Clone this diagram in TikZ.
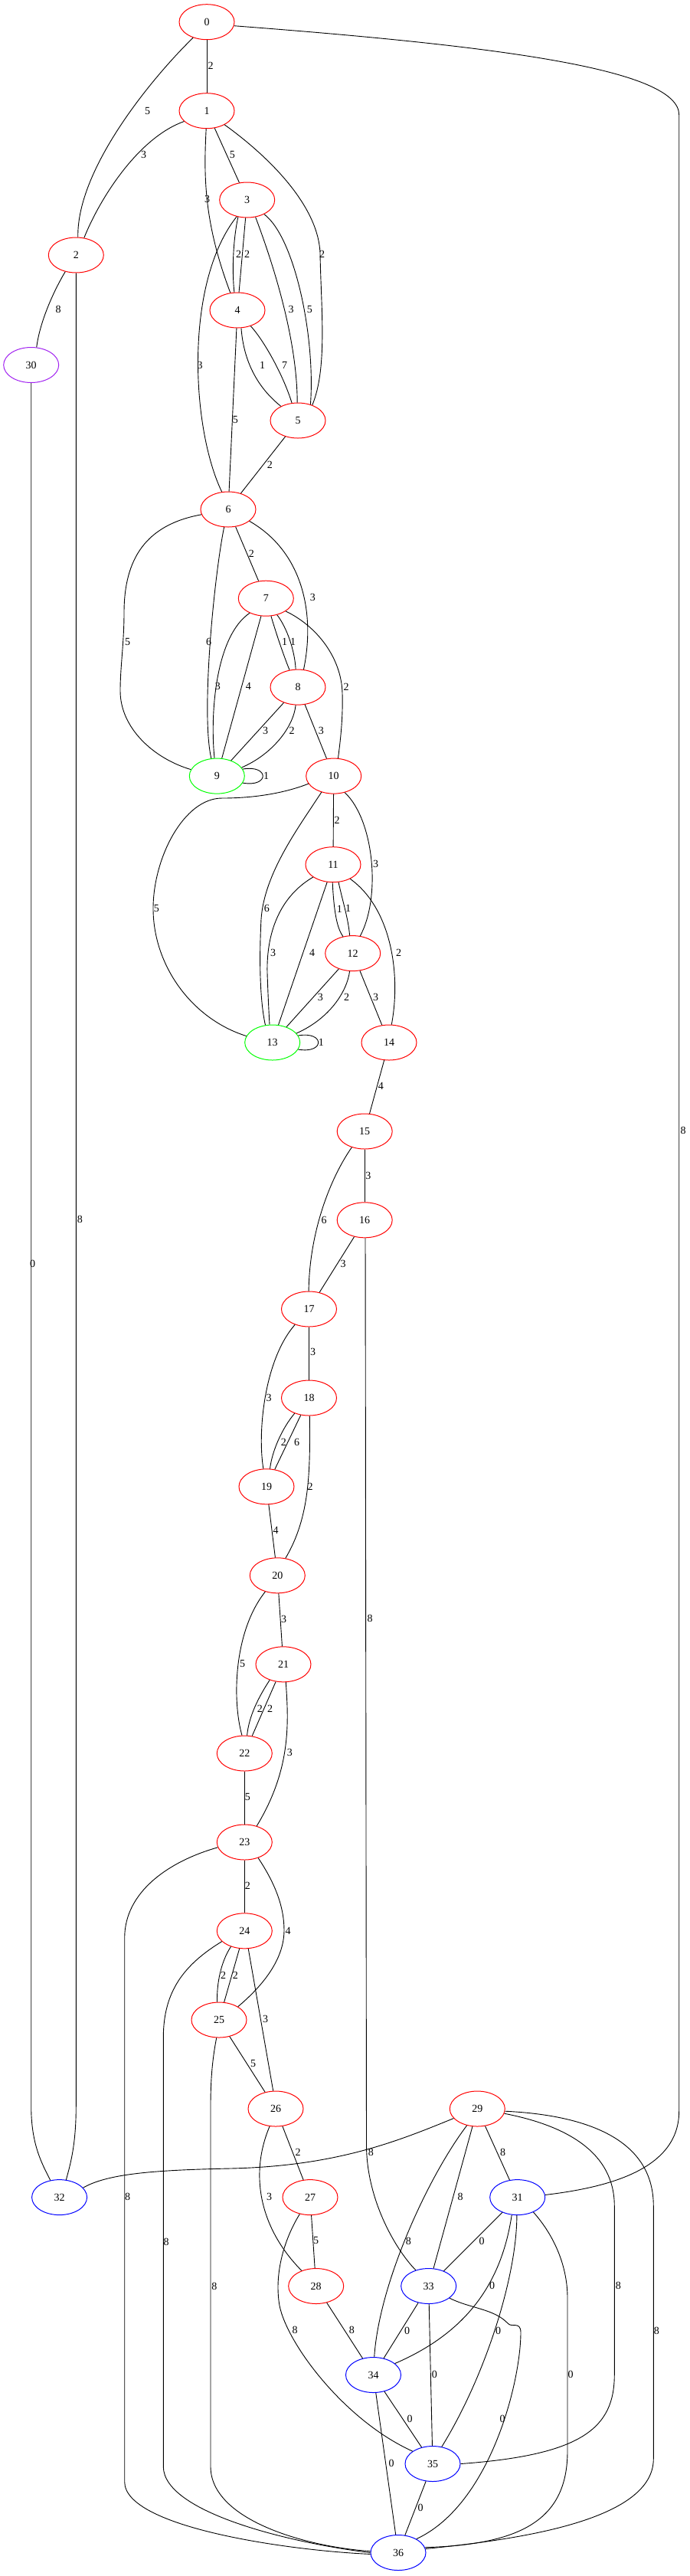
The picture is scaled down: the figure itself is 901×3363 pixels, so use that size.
\documentclass[tikz,border=0pt]{standalone}
\usepackage{fontspec}
\setmainfont{Liberation Serif}
\usetikzlibrary{shapes.geometric}
\definecolor{gvpurple}{HTML}{A020F0}
\begin{document}
\begin{tikzpicture}[x=1pt,y=-1pt,
  gv/.style={ellipse, draw, line width=1pt, minimum width=72pt, minimum height=46pt, inner sep=0pt, font=\fontsize{14}{16}\selectfont},
  rn/.style={gv, draw=red},
  gn/.style={gv, draw=green},
  bn/.style={gv, draw=blue},
  pn/.style={gv, draw=gvpurple},
  lbl/.style={font=\fontsize{14}{16}\selectfont, inner sep=0pt},
  edge/.style={draw=black, line width=0.9pt}]
\useasboundingbox (0,0) rectangle (901,3363);
% nodes
\node[rn] (n0) at (270,28.7) {0};
\node[rn] (n1) at (270,144.7) {1};
\node[rn] (n3) at (322.7,261) {3};
\node[rn] (n2) at (99.3,333) {2};
\node[rn] (n4) at (310,405) {4};
\node[pn] (n30) at (40.7,476.5) {30};
\node[rn] (n5) at (389,549) {5};
\node[rn] (n6) at (298,665) {6};
\node[rn] (n7) at (347.3,781.2) {7};
\node[rn] (n8) at (389,897.1) {8};
\node[gn] (n9) at (283.3,1013.1) {9};
\node[rn] (n10) at (435.7,1013.1) {10};
\node[rn] (n11) at (435,1128.7) {11};
\node[rn] (n12) at (460.7,1244.6) {12};
\node[gn] (n13) at (355.7,1361) {13};
\node[rn] (n14) at (508,1361) {14};
\node[rn] (n15) at (476.2,1477) {15};
\node[rn] (n16) at (476.2,1592.8) {16};
\node[rn] (n17) at (403.5,1709) {17};
\node[rn] (n18) at (403.5,1825) {18};
\node[rn] (n19) at (348,1940.8) {19};
\node[rn] (n20) at (362.3,2056.8) {20};
\node[rn] (n21) at (370,2172.8) {21};
\node[rn] (n22) at (319.3,2289) {22};
\node[rn] (n23) at (319.3,2405) {23};
\node[rn] (n24) at (319.3,2520.8) {24};
\node[rn] (n25) at (286,2637) {25};
\node[rn] (n26) at (360,2753) {26};
\node[rn] (n29) at (623.3,2753) {29};
\node[rn] (n27) at (405,2868.6) {27};
\node[bn] (n31) at (675.7,2868.6) {31};
\node[bn] (n32) at (77.6,2868.6) {32};
\node[rn] (n28) at (412.7,2984.5) {28};
\node[bn] (n33) at (559.7,2984.5) {33};
\node[bn] (n34) at (487.5,3100.5) {34};
\node[bn] (n35) at (565,3216.5) {35};
\node[bn] (n36) at (520,3332.5) {36};
% edges
\draw[edge] (n0) -- (n1) node[lbl] (e0-1) at (275,86) {2};
\draw[edge] (n0.229) .. controls (200,100) and (100,220) .. (n2.84) node[lbl] (e0-2) at (192.7,144.7) {5};
\draw[edge] (n0.352) .. controls (650,60) and (886.7,90) .. (886.7,150) -- (886.7,2756) .. controls (886.7,2830) and (800,2855) .. (n31.5) node[lbl] (e0-31) at (892,1476) {8};
\draw[edge] (n1.205) .. controls (180,180) and (130,260) .. (n2.65) node[lbl] (e1-2) at (187.7,201.7) {3};
\draw[edge] (n1) -- (n3) node[lbl] (e1-3) at (303.3,201.7) {5};
\draw[edge] (n1.268) .. controls (266,230) and (266,290) .. (n4.112) node[lbl] (e1-4) at (270.7,260) {3};
\draw[edge] (n1.322) .. controls (345,200) and (415,265) .. (418,330) .. controls (419,400) and (428,480) .. (n5.47) node[lbl] (e1-5) at (420.7,332.2) {2};
\draw[edge] (n3.242) .. controls (304,315) and (303,355) .. (n4.100) node[lbl] (e3-4a) at (311.7,332) {2};
\draw[edge] (n3) -- (n4) node[lbl] (e3-4b) at (322.7,332) {2};
\draw[edge] (n3.296) .. controls (355,340) and (388,440) .. (n5.92) node[lbl] (e3-5a) at (380,403.7) {3};
\draw[edge] (n3.320) .. controls (385,310) and (412,440) .. (n5.52) node[lbl] (e3-5b) at (404.3,403.7) {5};
\draw[edge] (n3.238) .. controls (240,370) and (250,560) .. (n6.110) node[lbl] (e3-6) at (261,476.5) {3};
\draw[edge] (n4.282) .. controls (318,470) and (335,505) .. (n5.140) node[lbl] (e4-5a) at (342.7,476.5) {1};
\draw[edge] (n4.310) .. controls (345,445) and (370,490) .. (n5.109) node[lbl] (e4-5b) at (371.7,476.5) {7};
\draw[edge] (n4) -- (n6) node[lbl] (e4-6) at (307.3,548) {5};
\draw[edge] (n5) -- (n6) node[lbl] (e5-6) at (352.3,606.6) {2};
\draw[edge] (n2.237) .. controls (70,380) and (52,420) .. (n30.73) node[lbl] (e2-30) at (76,403.7) {8};
\draw[edge] (n2.south) -- (99.3,2750) .. controls (99.3,2800) and (92,2825) .. (n32.69) node[lbl] (e2-32) at (104.3,1591.8) {8};
\draw[edge] (n30.south) -- (40.7,2750) .. controls (40.7,2800) and (55,2825) .. (n32.118) node[lbl] (e30-32) at (42.7,1650.3) {0};
\draw[edge] (n6.191) .. controls (190,685) and (162,730) .. (162,800) .. controls (162,840) and (157,870) .. (157,902) .. controls (157,950) and (200,990) .. (n9.166) node[lbl] (e6-9a) at (166.7,837.8) {5};
\draw[edge] (n6.257) .. controls (280,750) and (262,930) .. (n9.108) node[lbl] (e6-9b) at (272.7,837.8) {6};
\draw[edge] (n6) -- (n7) node[lbl] (e6-7) at (328.3,723) {2};
\draw[edge] (n6.331) .. controls (395,720) and (412,800) .. (n8.72) node[lbl] (e6-8) at (408.3,779.6) {3};
\draw[edge] (n7.222) .. controls (282,830) and (274,930) .. (n9.98) node[lbl] (e7-9a) at (284.3,896.3) {3};
\draw[edge] (n7) -- (n9) node[lbl] (e7-9b) at (324.3,896.3) {4};
\draw[edge] (n7.286) .. controls (360,825) and (370,855) .. (n8.116) node[lbl] (e7-8a) at (371.7,837.8) {1};
\draw[edge] (n7.304) .. controls (375,820) and (385,850) .. (n8.97) node[lbl] (e7-8b) at (382.7,837.8) {1};
\draw[edge] (n7.327) .. controls (415,818) and (446,860) .. (447,905) .. controls (448,940) and (444,970) .. (n10.76) node[lbl] (e7-10) at (452,897) {2};
\draw[edge] (n8) -- (n9) node[lbl] (e8-9a) at (346.7,953.7) {3};
\draw[edge] (n8.263) .. controls (383,950) and (355,985) .. (n9.19) node[lbl] (e8-9b) at (381,953.7) {2};
\draw[edge] (n8) -- (n10) node[lbl] (e8-10) at (419.3,953.7) {3};
\draw[edge] (n9.15) .. controls +(35,-6) and +(35,6) .. (n9.345) node[lbl] (e9-9) at (347.7,1013.1) {1};
\draw[edge] (n10.197) .. controls (370,1036) and (330,1042) .. (290,1042) .. controls (240,1042) and (200,1120) .. (200,1186) .. controls (200,1260) and (250,1330) .. (n13.166) node[lbl] (e10-13a) at (204.3,1186) {5};
\draw[edge] (n10.233) .. controls (390,1080) and (345,1140) .. (341,1200) .. controls (338,1260) and (340,1310) .. (n13.112) node[lbl] (e10-13b) at (348.3,1186) {6};
\draw[edge] (n10) -- (n11) node[lbl] (e10-11) at (440,1070.5) {2};
\draw[edge] (n10.304) .. controls (488,1070) and (498,1170) .. (n12.67) node[lbl] (e10-12) at (490.7,1127.7) {3};
\draw[edge] (n11.212) .. controls (358,1175) and (348,1230) .. (349,1270) .. controls (350,1300) and (351,1320) .. (n13.99) node[lbl] (e11-13a) at (356.7,1244.3) {3};
\draw[edge] (n11) -- (n13) node[lbl] (e11-13b) at (407.7,1244.3) {4};
\draw[edge] (n11.268) .. controls (436,1190) and (440,1212) .. (n12.120) node[lbl] (e11-12a) at (443.3,1186.9) {1};
\draw[edge] (n11.287) .. controls (447,1175) and (455,1200) .. (n12.100) node[lbl] (e11-12b) at (454.5,1185.7) {1};
\draw[edge] (n11.320) .. controls (510,1185) and (524,1270) .. (n14.82) node[lbl] (e11-14) at (520.7,1243.8) {2};
\draw[edge] (n12) -- (n13) node[lbl] (e12-13a) at (418.3,1301.7) {3};
\draw[edge] (n12.260) .. controls (453,1295) and (430,1330) .. (n13.21) node[lbl] (e12-13b) at (452.7,1301.8) {2};
\draw[edge] (n12) -- (n14) node[lbl] (e12-14) at (490.7,1301.8) {3};
\draw[edge] (n13.15) .. controls +(35,-6) and +(35,6) .. (n13.345) node[lbl] (e13-13) at (419.3,1361) {1};
\draw[edge] (n14) -- (n15) node[lbl] (e14-15) at (497.3,1418) {4};
\draw[edge] (n15) -- (n16) node[lbl] (e15-16) at (480.8,1534.5) {3};
\draw[edge] (n15.231) .. controls (430,1540) and (404,1610) .. (n17.91) node[lbl] (e15-17) at (423,1592.6) {6};
\draw[edge] (n16) -- (n17) node[lbl] (e16-17) at (448,1650.4) {3};
\draw[edge] (n16.272) -- (478.5,2800) .. controls (478.5,2870) and (515,2935) .. (n33.129) node[lbl] (e16-33) at (483,2113) {8};
\draw[edge] (n17) -- (n18) node[lbl] (e17-18) at (408.5,1765.2) {3};
\draw[edge] (n17.228) .. controls (345,1775) and (336,1870) .. (n19.100) node[lbl] (e17-19) at (351.2,1824.5) {3};
\draw[edge] (n18.227) .. controls (368,1865) and (355,1895) .. (n19.79) node[lbl] (e18-19a) at (370.4,1882.7) {2};
\draw[edge] (n18) -- (n19) node[lbl] (e18-19b) at (387.7,1882.7) {6};
\draw[edge] (n18.272) .. controls (405,1920) and (405,1980) .. (n20.65) node[lbl] (e18-20) at (405,1940.9) {2};
\draw[edge] (n19) -- (n20) node[lbl] (e19-20) at (360,1998.3) {4};
\draw[edge] (n20) -- (n21) node[lbl] (e20-21) at (370.7,2114.2) {3};
\draw[edge] (n20.233) .. controls (305,2130) and (303,2220) .. (n22.98) node[lbl] (e20-22) at (316.7,2171.6) {5};
\draw[edge] (n21.229) .. controls (338,2215) and (325,2240) .. (n22.82) node[lbl] (e21-22a) at (339.3,2230.6) {2};
\draw[edge] (n21) -- (n22) node[lbl] (e21-22b) at (352.7,2230.6) {2};
\draw[edge] (n21.278) .. controls (377,2250) and (380,2310) .. (n23.53) node[lbl] (e21-23) at (378.3,2288) {3};
\draw[edge] (n22) -- (n23) node[lbl] (e22-23) at (323.3,2346.2) {5};
\draw[edge] (n23) -- (n24) node[lbl] (e23-24) at (323.3,2462.2) {2};
\draw[edge] (n23.311) .. controls (360,2460) and (371,2490) .. (371,2520) .. controls (371,2560) and (340,2595) .. (n25.35) node[lbl] (e23-25) at (376,2520.7) {4};
\draw[edge] (n23.191) .. controls (220,2430) and (162.7,2470) .. (162.7,2530) -- (162.7,3240) .. controls (162.7,3300) and (380,3330) .. (n36.183) node[lbl] (e23-36) at (166.7,2867.9) {8};
\draw[edge] (n24.229) .. controls (288,2562) and (283,2590) .. (n25.96) node[lbl] (e24-25a) at (291.7,2578.9) {2};
\draw[edge] (n24) -- (n25) node[lbl] (e24-25b) at (307.3,2578.9) {2};
\draw[edge] (n24.282) -- (n26.98) node[lbl] (e24-26) at (346.7,2636.3) {3};
\draw[edge] (n24.205) .. controls (240,2565) and (213.3,2600) .. (213.3,2660) -- (213.3,3220) .. controls (213.3,3280) and (380,3320) .. (n36.180) node[lbl] (e24-36) at (217.2,2926.8) {8};
\draw[edge] (n25) -- (n26) node[lbl] (e25-26) at (330.7,2693.7) {5};
\draw[edge] (n25.262) .. controls (278,2685) and (275,2710) .. (275,2750) -- (275,3220) .. controls (275,3290) and (400,3325) .. (n36.177) node[lbl] (e25-36) at (279.9,2985) {8};
\draw[edge] (n26) -- (n27) node[lbl] (e26-27) at (389,2810.3) {2};
\draw[edge] (n26.251) .. controls (325,2840) and (340,2910) .. (n28.133) node[lbl] (e26-28) at (351.7,2867.5) {3};
\draw[edge] (n27) -- (n28) node[lbl] (e27-28) at (412.7,2925.2) {5};
\draw[edge] (n27.238) .. controls (370,2925) and (358,2970) .. (365,3010) .. controls (375,3060) and (450,3160) .. (n35.148) node[lbl] (e27-35) at (385,3041.8) {8};
\draw[edge] (n28) -- (n34) node[lbl] (e28-34) at (459.3,3041.8) {8};
\draw[edge] (n29.202) .. controls (520,2795) and (440,2828) .. (300,2831) .. controls (200,2833) and (140,2838) .. (n32.22) node[lbl] (e29-32) at (484.3,2810.3) {8};
\draw[edge] (n29) -- (n31) node[lbl] (e29-31) at (656.7,2810.3) {8};
\draw[edge] (n29) -- (n33) node[lbl] (e29-33) at (601,2867.7) {8};
\draw[edge] (n29.238) .. controls (560,2840) and (495,2980) .. (n34.87) node[lbl] (e29-34) at (533.3,2926) {8};
\draw[edge] (n29.350) .. controls (740,2775) and (802.3,2810) .. (802.3,2880) -- (802.3,3100) .. controls (802.3,3170) and (760,3205) .. (n35.east) node[lbl] (e29-35) at (807.3,2984) {8};
\draw[edge] (n29.355) .. controls (780,2762) and (853.3,2800) .. (853.3,2880) -- (853.3,3210) .. controls (853.3,3290) and (680,3315) .. (n36.8) node[lbl] (e29-36) at (857.3,3042.7) {8};
\draw[edge] (n31) -- (n33) node[lbl] (e31-33) at (629,2926.2) {0};
\draw[edge] (n31.252) .. controls (655,2980) and (610,3045) .. (n34.28) node[lbl] (e31-34) at (642.7,2984.3) {0};
\draw[edge] (n31.268) .. controls (675,2970) and (635,3100) .. (n35.62) node[lbl] (e31-35) at (650.7,3042.7) {0};
\draw[edge] (n31.317) .. controls (725,2920) and (741,2960) .. (741,3000) -- (741,3200) .. controls (741,3290) and (680,3322) .. (n36.11) node[lbl] (e31-36) at (745,3100) {0};
\draw[edge] (n33) -- (n34) node[lbl] (e33-34) at (531.7,3042.7) {0};
\draw[edge] (n33) -- (n35) node[lbl] (e33-35) at (567.3,3100) {0};
\draw[edge] (n33.330) .. controls (615,3014) and (645,3014) .. (663.3,3033.3) .. controls (668,3039) and (680,3030) .. (680,3045) .. controls (680,3110) and (640,3270) .. (n36.37) node[lbl] (e33-36) at (656,3158.3) {0};
\draw[edge] (n34) -- (n35) node[lbl] (e34-35) at (535,3158.3) {0};
\draw[edge] (n34) -- (n36) node[lbl] (e34-36) at (511,3216) {0};
\draw[edge] (n35) -- (n36) node[lbl] (e35-36) at (549,3274) {0};
\end{tikzpicture}
\end{document}
